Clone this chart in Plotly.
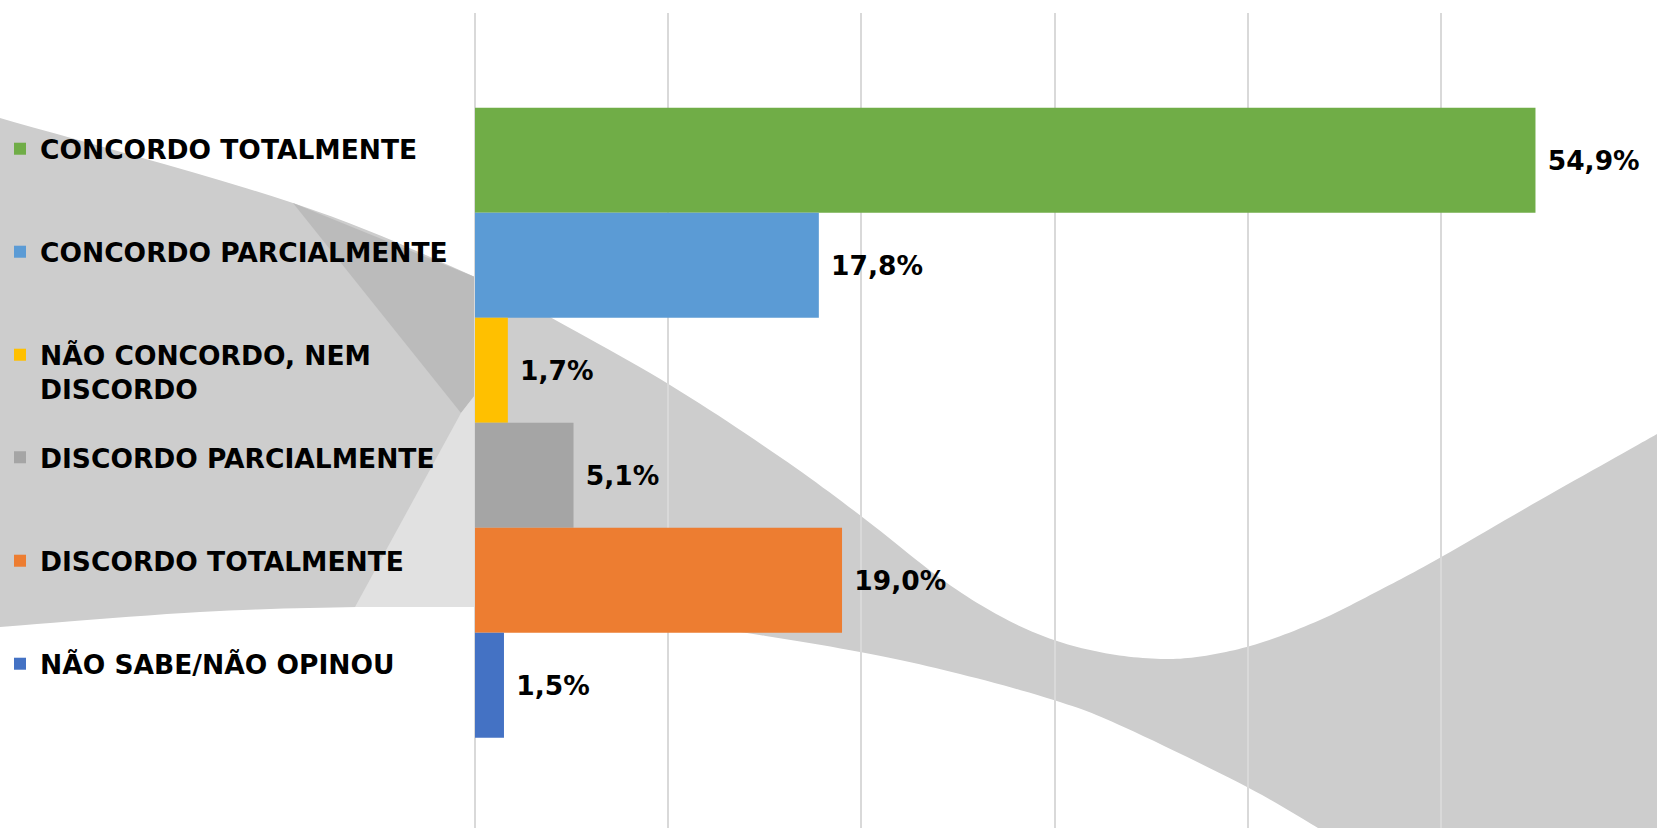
import plotly.graph_objects as go

# ---------------- data ----------------
categories = [
    "CONCORDO TOTALMENTE",
    "CONCORDO PARCIALMENTE",
    "NÃO CONCORDO, NEM<br>DISCORDO",
    "DISCORDO PARCIALMENTE",
    "DISCORDO TOTALMENTE",
    "NÃO SABE/NÃO OPINOU",
]
values = [54.9, 17.8, 1.7, 5.1, 19.0, 1.5]
colors = ["#70AD47", "#5B9BD5", "#FFC000", "#A5A5A5", "#ED7D31", "#4472C4"]
x_ticks = [0, 10, 20, 30, 40, 50, 60]

# ---------------- geometry ----------------
W, H = 1657, 828
ML, MR, MT, MB = 475, 23, 13, 0
PW, PH = W - ML - MR, H - MT - MB

FONT = dict(family="DejaVu Sans", size=26.5, color="#000000", weight="bold")


def P(px, py):
    return ((px - ML) / PW, 1 - (py - MT) / PH)


def catmull(points, n=12):
    out = []
    pts = [points[0]] + points + [points[-1]]
    for i in range(1, len(pts) - 2):
        p0, p1, p2, p3 = pts[i - 1], pts[i], pts[i + 1], pts[i + 2]
        for k in range(n):
            t = k / n
            t2, t3 = t * t, t * t * t
            x = 0.5 * ((2 * p1[0]) + (-p0[0] + p2[0]) * t + (2 * p0[0] - 5 * p1[0] + 4 * p2[0] - p3[0]) * t2 + (-p0[0] + 3 * p1[0] - 3 * p2[0] + p3[0]) * t3)
            y = 0.5 * ((2 * p1[1]) + (-p0[1] + p2[1]) * t + (2 * p0[1] - 5 * p1[1] + 4 * p2[1] - p3[1]) * t2 + (-p0[1] + 3 * p1[1] - 3 * p2[1] + p3[1]) * t3)
            out.append((x, y))
    out.append(points[-1])
    return out


def path(pts):
    s = ""
    for i, (x, y) in enumerate(pts):
        u, v = P(x, y)
        s += ("M" if i == 0 else "L") + f"{u:.5f},{v:.5f} "
    return s + "Z"


upper = [(0, 118), (293, 203), (475, 277), (550, 317), (670, 385), (780, 457), (861, 516),
         (940, 578), (1000, 616), (1054, 640), (1110, 654), (1165, 659), (1210, 655),
         (1260, 643), (1320, 620), (1380, 590), (1436, 560), (1540, 500), (1634, 447), (1657, 434)]
lower = [(0, 627), (200, 612), (357, 607), (475, 607), (600, 614), (733, 631), (860, 652),
         (960, 674), (1060, 702), (1126, 728), (1247, 787), (1318, 828)]

swoosh = catmull(upper) + [(1657, 828)] + list(reversed(catmull(lower)))
dark = [(293, 203), (475, 277), (475, 395), (461, 413)]
light = [(355, 607), (461, 413), (475, 395), (475, 607)]

shapes = [
    dict(type="path", xref="paper", yref="paper", layer="below", path=path(swoosh),
         fillcolor="#CDCDCD", line=dict(width=0)),
    dict(type="path", xref="paper", yref="paper", layer="below", path=path(dark),
         fillcolor="#BBBBBB", line=dict(width=0)),
    dict(type="path", xref="paper", yref="paper", layer="below", path=path(light),
         fillcolor="#E1E1E1", line=dict(width=0)),
]

# ---------------- figure ----------------
fig = go.Figure()
legend_ids = ["legend", "legend2", "legend3", "legend4", "legend5", "legend6"]
legend_y = [149, 252, 372, 457.5, 561, 664]

for cat, val, col, lid in zip(categories, values, colors, legend_ids):
    fig.add_trace(go.Bar(
        x=[val], y=["Q"], orientation="h", name=cat,
        marker=dict(color=col, line=dict(width=0)),
        text=["\u00a0" + f"{val:.1f}".replace(".", ",") + "%"],
        textposition="outside", textfont=FONT,
        cliponaxis=False, constraintext="none",
        legend=lid, hoverinfo="skip",
    ))

layout_legends = {}
for lid, yc in zip(legend_ids, legend_y):
    layout_legends[lid] = dict(
        xref="container", yref="container", x=0.0, xanchor="left",
        y=1 - yc / H, yanchor="middle", bgcolor="rgba(0,0,0,0)",
        font=FONT, valign="top", borderwidth=0,
    )

fig.update_layout(
    width=W, height=H,
    margin=dict(l=ML, r=MR, t=MT, b=MB, pad=0),
    paper_bgcolor="#FFFFFF", plot_bgcolor="rgba(0,0,0,0)",
    barmode="group", bargap=0.2, bargroupgap=0,
    showlegend=True, shapes=shapes,
    xaxis=dict(range=[0, 60], tickvals=x_ticks, showticklabels=False,
               showgrid=True, gridcolor="#D9D9D9", gridwidth=1.5,
               zeroline=True, zerolinecolor="#D9D9D9", zerolinewidth=1.5,
               showline=False, ticks=""),
    yaxis=dict(type="category", range=[0.5145, -0.5204], showticklabels=False,
               showgrid=False, zeroline=False, showline=False, ticks=""),
    **layout_legends,
)

fig.write_html(
    "out.html",
    config={"displayModeBar": False},
    post_script="document.body.style.margin='0';document.body.style.overflow='hidden';",
)
